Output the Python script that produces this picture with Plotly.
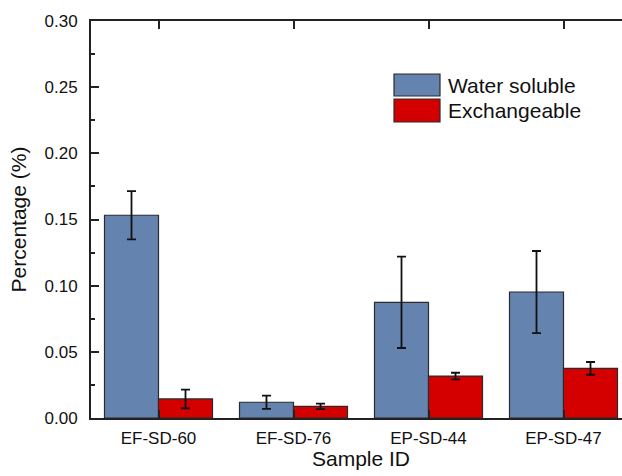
import plotly.graph_objects as go

categories = ["EF-SD-60", "EF-SD-76", "EP-SD-44", "EP-SD-47"]
water_soluble = [0.1532, 0.0119, 0.0874, 0.0952]
water_soluble_err = [0.0182, 0.0050, 0.0345, 0.0310]
exchangeable = [0.0144, 0.0088, 0.0317, 0.0375]
exchangeable_err = [0.0071, 0.0021, 0.0025, 0.0048]
y_ticks = [0.00, 0.05, 0.10, 0.15, 0.20, 0.25, 0.30]

W, H = 622, 476
L, T, B = 91, 21, 58
plot_w = W - L
plot_h = H - T - B
unit_px = 135.0
xmin = -0.5
xmax = xmin + plot_w / unit_px

BLUE = "#6483ae"
RED = "#d40000"
FONT = "Liberation Sans, Arial, sans-serif"

xs = list(range(len(categories)))

fig = go.Figure()
fig.add_trace(go.Bar(
    x=xs, y=water_soluble, name="Water soluble",
    marker=dict(color=BLUE, line=dict(color="#2b2b2b", width=1.2)),
    error_y=dict(type="data", array=water_soluble_err, visible=True,
                 color="#111111", thickness=1.8, width=4.5),
))
fig.add_trace(go.Bar(
    x=xs, y=exchangeable, name="Exchangeable",
    marker=dict(color=RED, line=dict(color="#2b2b2b", width=1.2)),
    error_y=dict(type="data", array=exchangeable_err, visible=True,
                 color="#111111", thickness=1.8, width=4.5),
))

def px_x(p):
    return (p - L) / plot_w

def px_y(p):
    return (H - B - p) / plot_h

# custom legend
legend_items = [("Water soluble", BLUE, 74, 96), ("Exchangeable", RED, 99, 122)]
shapes = []
annotations = []
for name, col, y0, y1 in legend_items:
    shapes.append(dict(type="rect", xref="paper", yref="paper",
                       x0=px_x(394), x1=px_x(440), y0=px_y(y1), y1=px_y(y0),
                       fillcolor=col, line=dict(color="#2b2b2b", width=1.2)))
    annotations.append(dict(text=name, xref="paper", yref="paper",
                            x=px_x(446), y=px_y((y0 + y1) / 2),
                            xanchor="left", yanchor="middle", showarrow=False,
                            font=dict(size=21, color="#111111", family=FONT)))

# x title (centered on full category span)
annotations.append(dict(text="Sample ID", xref="x", yref="paper",
                        x=1.5, y=px_y(445), xanchor="center", yanchor="top",
                        showarrow=False,
                        font=dict(size=21, color="#111111", family=FONT)))

fig.update_layout(
    width=W, height=H,
    margin=dict(l=L, r=0, t=T, b=B, pad=0),
    paper_bgcolor="white", plot_bgcolor="white",
    barmode="group", bargap=0.2, bargroupgap=0.0,
    showlegend=False,
    font=dict(family=FONT, size=17, color="#111111"),
    shapes=shapes, annotations=annotations,
)
fig.update_xaxes(
    range=[xmin, xmax], tickmode="array", tickvals=xs, ticktext=categories,
    showline=True, linecolor="#222222", linewidth=2, mirror="ticks",
    ticks="inside", ticklen=8, tickwidth=1.8, tickcolor="#222222",
    showgrid=False, zeroline=False, ticklabelstandoff=4,
    tickfont=dict(size=17, family=FONT, color="#111111"),
)
fig.update_yaxes(
    range=[0, 0.30], tickmode="array", tickvals=y_ticks,
    ticktext=[f"{v:.2f}" for v in y_ticks],
    showline=True, linecolor="#222222", linewidth=2, mirror=False,
    ticks="inside", ticklen=8, tickwidth=1.8, tickcolor="#222222",
    minor=dict(ticks="inside", ticklen=4, tickwidth=1.6, tickcolor="#222222",
               dtick=0.025, showgrid=False),
    showgrid=False, zeroline=False, ticklabelstandoff=8,
    title=dict(text="Percentage (%)", font=dict(size=21, family=FONT, color="#111111"),
               standoff=12),
    tickfont=dict(size=17, family=FONT, color="#111111"),
)

fig.write_html(
    "out.html",
    config={"displayModeBar": False},
    post_script="document.body.style.margin='0';document.body.style.overflow='hidden';",
)
